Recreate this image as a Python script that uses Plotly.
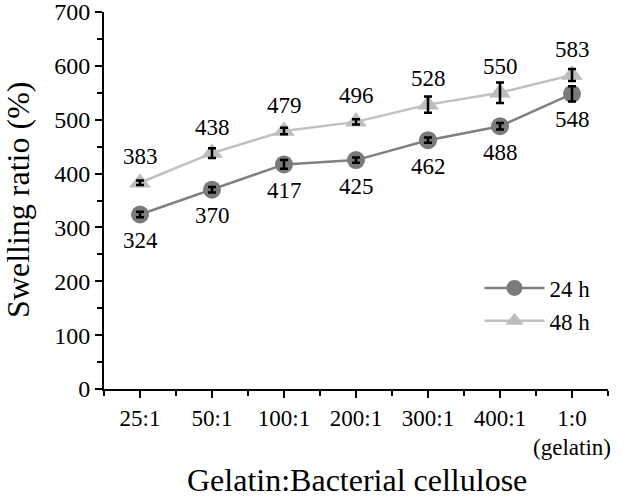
import plotly.graph_objects as go

categories = ["25:1", "50:1", "100:1", "200:1", "300:1", "400:1", "1:0<br>(gelatin)"]
h24 = [324, 370, 417, 425, 462, 488, 548]
h24_err = [5, 5, 8, 5, 5, 6, 14]
h48 = [383, 438, 479, 496, 528, 550, 583]
h48_err = [4, 9, 6, 5, 15, 19, 11]

font_family = "Liberation Serif"
x = list(range(len(categories)))

fig = go.Figure()
fig.add_trace(go.Scatter(
    x=x, y=h24, name="24 h", mode="lines+markers",
    line=dict(color="#808080", width=2.5),
    marker=dict(symbol="circle", size=18, color="#7a7a7a"),
))
fig.add_trace(go.Scatter(
    x=x, y=h48, name="48 h", mode="lines+markers",
    line=dict(color="#c0c0c0", width=2.5),
    marker=dict(symbol="triangle-up", size=19, color="#bdbdbd"),
))
# error bars drawn on top of markers
for ys, errs in ((h24, h24_err), (h48, h48_err)):
    fig.add_trace(go.Scatter(
        x=x, y=ys, mode="markers", showlegend=False, hoverinfo="skip",
        marker=dict(size=1, opacity=0),
        error_y=dict(type="data", array=errs, color="black", thickness=2.5, width=4),
    ))

for xi, v in zip(x, h24):
    fig.add_annotation(x=xi, y=v, text=str(v), showarrow=False, yshift=-26,
                       font=dict(family=font_family, size=23, color="black"))
for xi, v in zip(x, h48):
    fig.add_annotation(x=xi, y=v, text=str(v), showarrow=False, yshift=26,
                       font=dict(family=font_family, size=23, color="black"))

# axis titles
fig.add_annotation(xref="paper", yref="paper", x=0.502, y=-0.242, text="Gelatin:Bacterial cellulose",
                   showarrow=False, xanchor="center", yanchor="middle",
                   font=dict(family=font_family, size=32, color="black"))
fig.add_annotation(xref="paper", yref="paper", x=-0.171, y=0.501, text="Swelling ratio (%)",
                   showarrow=False, xanchor="center", yanchor="middle", textangle=-90,
                   font=dict(family=font_family, size=32, color="black"))

fig.update_layout(
    width=625, height=497,
    margin=dict(l=104, r=17, t=12, b=108),
    paper_bgcolor="white", plot_bgcolor="white",
    font=dict(family=font_family, size=22, color="black"),
    showlegend=True,
    legend=dict(x=0.745, y=0.325, xanchor="left", yanchor="top",
                bgcolor="rgba(0,0,0,0)", font=dict(size=23),
                itemwidth=60, tracegroupgap=0),
)
fig.update_xaxes(
    range=[-0.5, 6.5], tickmode="array", tickvals=x, ticktext=categories,
    showline=True, linecolor="black", linewidth=1.8, showgrid=False, zeroline=False,
    ticks="outside", ticklen=7, tickwidth=1.8, tickcolor="black",
    minor=dict(tickvals=[i + 0.5 for i in range(-1, 7)], ticks="outside", ticklen=5, tickwidth=1.5, tickcolor="black"),
    tickfont=dict(size=23), automargin=False,
)
fig.update_yaxes(
    range=[0, 700], tickvals=[0, 100, 200, 300, 400, 500, 600, 700],
    showline=True, linecolor="black", linewidth=1.8, showgrid=False, zeroline=False,
    ticks="outside", ticklen=7, tickwidth=1.8, tickcolor="black",
    minor=dict(dtick=50, ticks="outside", ticklen=5, tickwidth=1.5, tickcolor="black"),
    tickfont=dict(size=24), automargin=False, ticklabeloverflow="allow",
)

fig.write_html("out.html", config={"displayModeBar": False},
               post_script="document.body.style.margin='0';document.body.style.overflow='hidden';")
